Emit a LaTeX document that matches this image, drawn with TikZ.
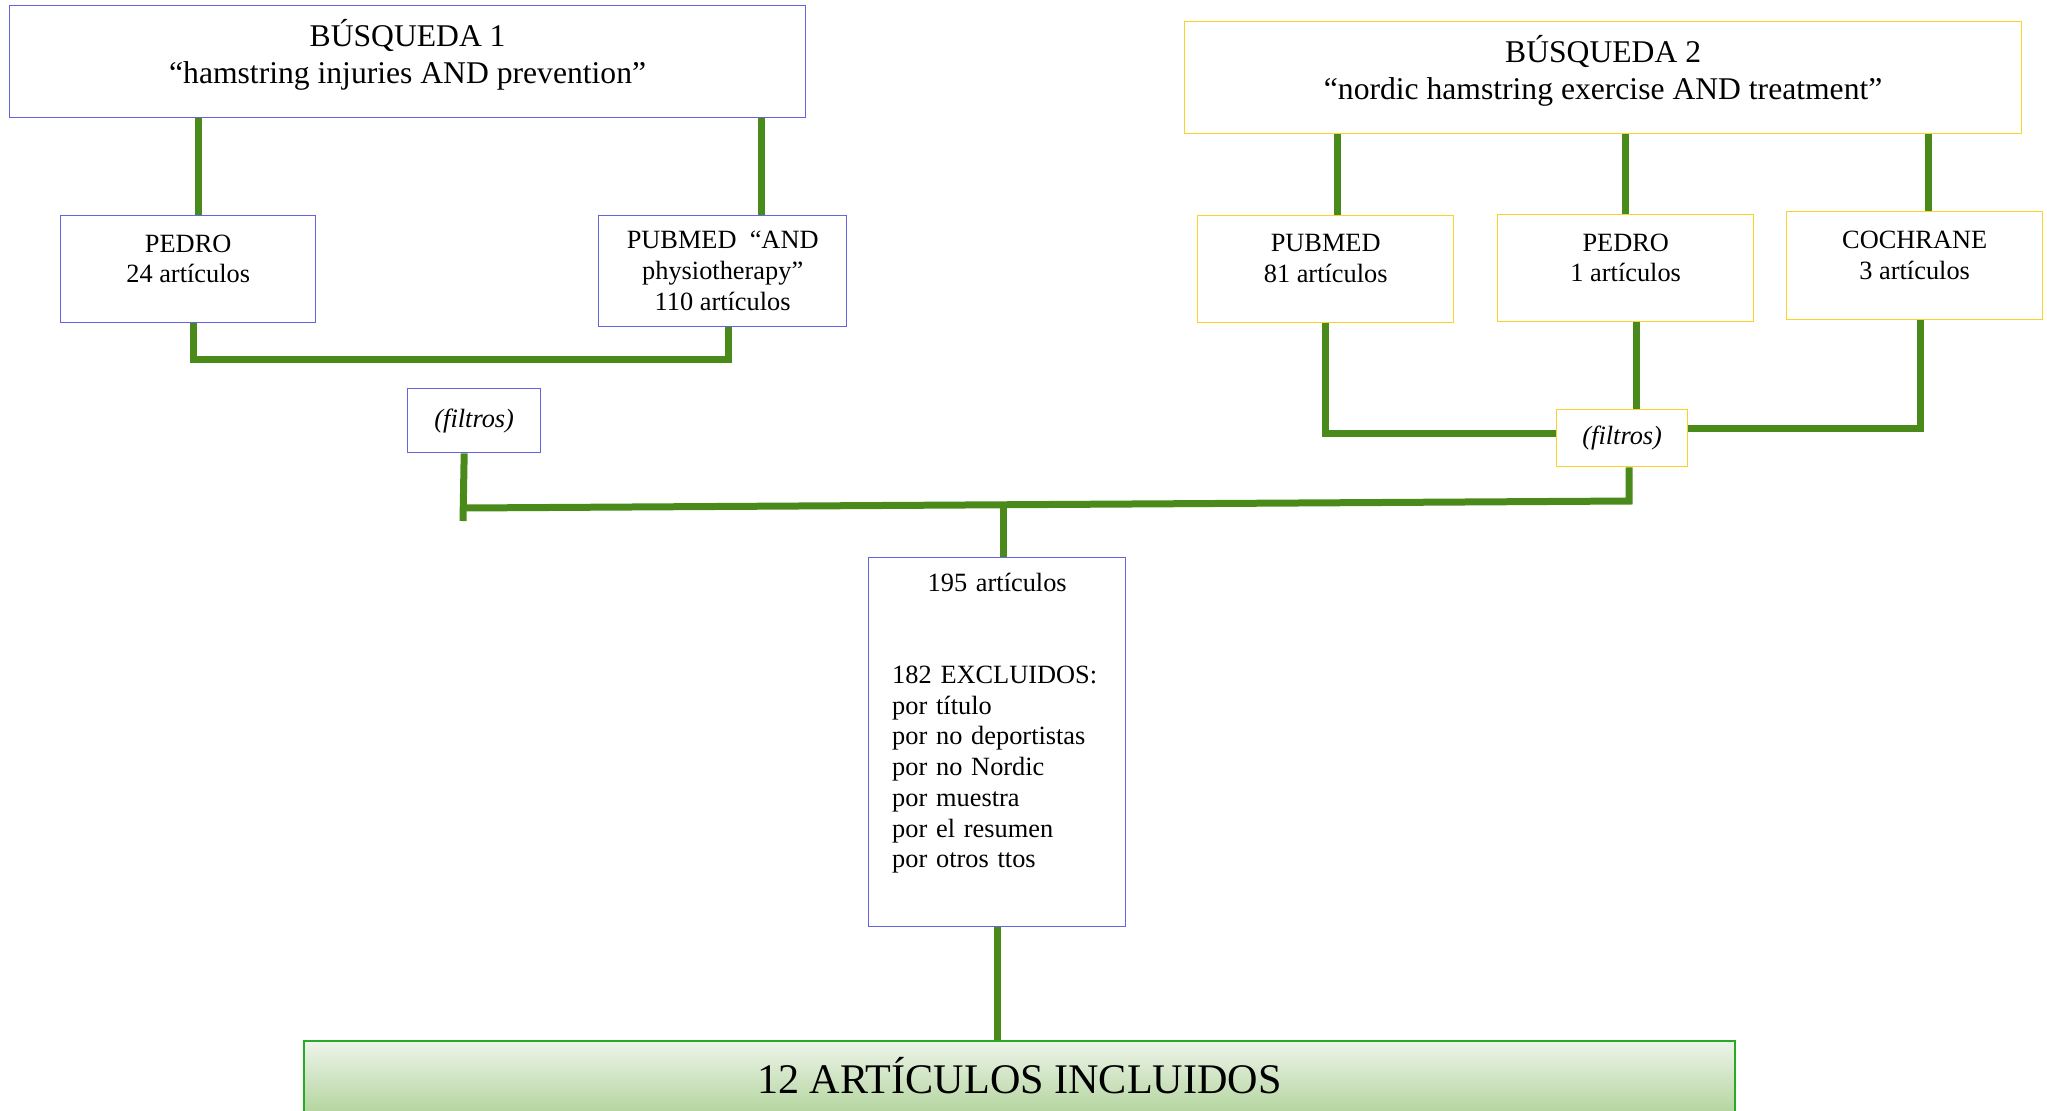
\documentclass[tikz,border=0pt]{standalone}
\usepackage{fontspec}
\setmainfont{Liberation Serif}
\usetikzlibrary{positioning}

\definecolor{azulcaja}{RGB}{100,100,225}
\definecolor{amarillocaja}{RGB}{250,210,40}
\definecolor{verdelinea}{RGB}{74,138,26}
\definecolor{verdeborde}{RGB}{40,170,40}
\definecolor{verdeclaro}{RGB}{238,244,234}
\definecolor{verdeoscuro}{RGB}{178,212,156}

\begin{document}
\begin{tikzpicture}[
    x=0.02cm, y=-0.02cm,
    fuente/.style={
        draw=#1,
        line width=0.8pt,
        fill=white,
        align=center,
        anchor=north west,
        inner sep=0pt,
        font=\fontsize{15}{17.6}\selectfont
    },
    busqueda/.style={
        fuente=#1,
        font=\fontsize{18}{20.8}\selectfont
    },
    filtro/.style={
        fuente=#1,
        font=\fontsize{15}{17.6}\selectfont\itshape
    },
    resultado/.style={
        draw=verdeborde,
        line width=1.2pt,
        top color=verdeclaro,
        bottom color=verdeoscuro,
        anchor=north west,
        inner sep=0pt,
        font=\fontsize{24}{28}\selectfont
    },
    enlace/.style={draw=verdelinea, line width=0.14cm}
]
\useasboundingbox (0,0) rectangle (2047,1110);

\node[busqueda=azulcaja, minimum width=15.92cm, minimum height=2.24cm] (b1) at (9,5) {BÚSQUEDA 1\\“hamstring injuries AND prevention”\\[-0.32cm]\mbox{}};
\node[fuente=azulcaja, minimum width=5.1cm, minimum height=2.14cm] (pedro1) at (60,215) {PEDRO\\24 artículos\\[-0.2cm]\mbox{}};
\node[fuente=azulcaja, minimum width=4.96cm, minimum height=2.22cm] (pubmed1) at (598,215) {PUBMED~ “AND\\physiotherapy”\\110 artículos};
\node[filtro=azulcaja, minimum width=2.66cm, minimum height=1.28cm] (filtros1) at (407,388) {(filtros)};

\node[busqueda=amarillocaja, minimum width=16.74cm, minimum height=2.24cm] (b2) at (1184,21) {BÚSQUEDA 2\\“nordic hamstring exercise AND treatment”\\[-0.32cm]\mbox{}};
\node[fuente=amarillocaja, minimum width=5.12cm, minimum height=2.14cm] (pubmed2) at (1197,215) {PUBMED\\81 artículos\\[-0.2cm]\mbox{}};
\node[fuente=amarillocaja, minimum width=5.12cm, minimum height=2.14cm] (pedro2) at (1497,214) {PEDRO\\1 artículos\\[-0.2cm]\mbox{}};
\node[fuente=amarillocaja, minimum width=5.12cm, minimum height=2.16cm] (cochrane) at (1786,211) {COCHRANE\\3 artículos\\[-0.2cm]\mbox{}};
\node[filtro=amarillocaja, minimum width=2.62cm, minimum height=1.14cm] (filtros2) at (1556,409) {(filtros)};

\node[fuente=azulcaja, align=left, text width=4.2cm, inner xsep=0.47cm, minimum height=7.38cm, font=\fontsize{15}{17.5}\selectfont] (total) at (868,557) {\makebox[\hsize]{195 artículos}\\\mbox{}\\\mbox{}\\182 EXCLUIDOS:\\por título\\por no deportistas\\por no Nordic\\por muestra\\por el resumen\\por otros ttos\\\mbox{}\\[-0.36cm]\mbox{}};

\node[resultado, minimum width=28.62cm, minimum height=1.48cm] (incl) at (303,1040) {\raisebox{0.1cm}{12 ARTÍCULOS INCLUIDOS}};

\coordinate (union1) at (460,359);
\coordinate (cola) at (463,521);
\coordinate (tronco1) at (463,508);
\coordinate (tronco2) at (1629,501);
\coordinate (medio) at (1003,505);

\draw[enlace] ([xshift=0.2cm]pedro1.north) -- ([xshift=0.2cm]pedro1.north |- b1.south);
\draw[enlace] ([xshift=0.78cm]pubmed1.north) -- ([xshift=0.78cm]pubmed1.north |- b1.south);
\draw[enlace] ([xshift=0.1cm]pedro1.south) -- ([xshift=0.1cm]pedro1.south |- union1) -| ([xshift=0.12cm]pubmed1.south);
\draw[enlace] ([xshift=-0.2cm]filtros1.south) -- (cola);
\draw[enlace] (tronco1) -- (tronco2) -- ([xshift=0.14cm]filtros2.south);
\draw[enlace] (medio) -- (medio |- total.north);
\draw[enlace] (total.south) -- (total.south |- incl.north);

\draw[enlace] ([xshift=0.24cm]pubmed2.north) -- ([xshift=0.24cm]pubmed2.north |- b2.south);
\draw[enlace] (pedro2.north) -- (pedro2.north |- b2.south);
\draw[enlace] ([xshift=0.28cm]cochrane.north) -- ([xshift=0.28cm]cochrane.north |- b2.south);
\draw[enlace] (pubmed2.south) |- ([yshift=0.1cm]filtros2.west);
\draw[enlace] ([xshift=0.22cm]pedro2.south) -- ([xshift=0.22cm]pedro2.south |- filtros2.north);
\draw[enlace] ([xshift=0.12cm]cochrane.south) |- ([yshift=0.2cm]filtros2.east);

\end{tikzpicture}
\end{document}
